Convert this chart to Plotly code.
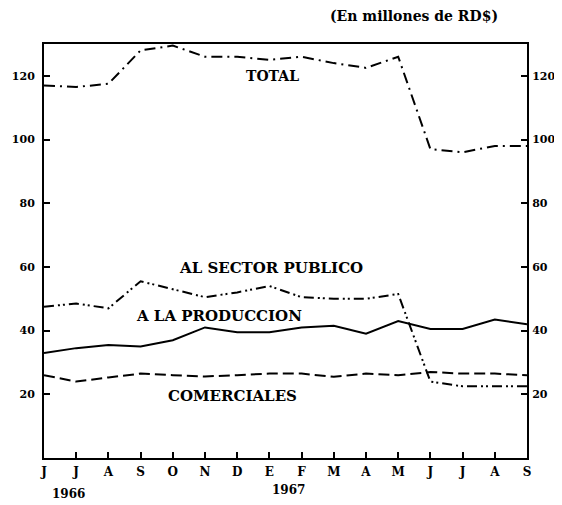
import plotly.graph_objects as go

# Data (millones de RD$), junio 1966 - septiembre 1967
months = ['J', 'J', 'A', 'S', 'O', 'N', 'D', 'E', 'F', 'M', 'A', 'M', 'J', 'J', 'A', 'S']
total = [117, 116.5, 117.5, 128, 129.5, 126, 126, 125, 126, 124, 122.5, 126, 97, 96, 98, 98]
sector_publico = [47.5, 48.5, 47, 55.5, 53, 50.5, 52, 54, 50.5, 50, 50, 51.5, 24, 22.5, 22.5, 22.5]
produccion = [33, 34.5, 35.5, 35, 37, 41, 39.5, 39.5, 41, 41.5, 39, 43, 40.5, 40.5, 43.5, 42]
comerciales = [26, 24, 25.3, 26.5, 26, 25.6, 26, 26.5, 26.5, 25.5, 26.5, 26, 27, 26.5, 26.5, 26]
y_ticks = [20, 40, 60, 80, 100, 120]

x = list(range(len(months)))
FONT = "DejaVu Serif"

fig = go.Figure()

def add_line(vals, dash):
    fig.add_trace(go.Scatter(
        x=x, y=vals, mode="lines",
        line=dict(color="black", width=2, dash=dash),
        showlegend=False, hoverinfo="skip",
    ))

add_line(total, "11px,5px,2px,5px")
add_line(sector_publico, "10px,4px,2px,3px,2px,4px")
add_line(produccion, "solid")
add_line(comerciales, "11px,5px")

# invisible trace for the right axis
fig.add_trace(go.Scatter(x=[x[0]], y=[None], yaxis="y2", showlegend=False, hoverinfo="skip"))

labels = [
    ("TOTAL", 7.1, 120, 14),
    ("AL SECTOR PUBLICO", 7.05, 59.7, 15),
    ("A LA PRODUCCION", 5.45, 44.7, 15),
    ("COMERCIALES", 5.85, 19.5, 15),
]
for text, lx, ly, fs in labels:
    fig.add_annotation(x=lx, y=ly, text="<b>" + text + "</b>", showarrow=False,
                       font=dict(family=FONT, size=fs, color="black"))

fig.add_annotation(x=0.767, y=1.067, xref="paper", yref="paper", xanchor="center", yanchor="middle",
                   text="<b>(En millones de RD$)</b>", showarrow=False,
                   font=dict(family=FONT, size=14, color="black"))
fig.add_annotation(x=0.75, y=-0.108, xref="x", yref="paper", text="<b>1966</b>", showarrow=False,
                   font=dict(family=FONT, size=12, color="black"))
fig.add_annotation(x=7.6, y=-0.1, xref="x", yref="paper", text="<b>1967</b>", showarrow=False,
                   font=dict(family=FONT, size=12, color="black"))

axis_common = dict(range=[0, 130], tickvals=y_ticks, ticks="inside", ticklen=6, tickwidth=2,
                   tickcolor="black", showgrid=False, zeroline=False, showline=True,
                   linecolor="black", linewidth=2, automargin=False,
                   tickfont=dict(family=FONT, size=11, color="black", weight="bold"))

# page body has a small margin, so the figure is drawn slightly smaller
fig.update_layout(
    width=554, height=497,
    margin=dict(l=36, r=35, t=36, b=47),
    paper_bgcolor="white", plot_bgcolor="white",
    xaxis=dict(range=[0, 15], tickvals=x, ticktext=months, ticks="inside", ticklen=6,
               tickwidth=2, tickcolor="black", showgrid=False, zeroline=False,
               showline=True, linecolor="black", linewidth=2, mirror=True,
               automargin=False, ticklabelstandoff=2,
               tickfont=dict(family=FONT, size=12, color="black", weight="bold")),
    yaxis=dict(ticklabelstandoff=5, **axis_common),
    yaxis2=dict(overlaying="y", side="right", ticklabelstandoff=1, **axis_common),
)

fig.write_html("out.html")
